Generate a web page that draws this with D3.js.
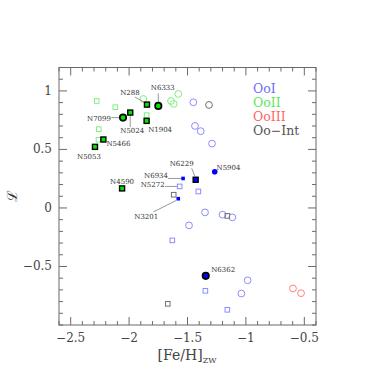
<!DOCTYPE html>
<html>
<head>
<meta charset="utf-8">
<script src="https://cdn.jsdelivr.net/npm/d3@7"></script>
<style>
  body { margin: 0; background: #fff; }
  text { font-family: "DejaVu Serif", serif; }
</style>
</head>
<body>
<div id="chart"></div>
<script>
// groups and their colours
var groups = ["OoI", "OoII", "OoIII", "Oo\u2212Int"]
var legendColor = ["#6c6cff", "#5ee65e", "#ff6464", "#555555"]
var openColor = ["#8c8cff", "#80ee80", "#ff8080", "#707070"]

// unnamed clusters: [FeH, L, group, shape]  (shape: c = circle, s = square)
var openPoints = [
    [-2.277, 0.914, 1, "s"], [-2.118, 0.861, 1, "s"], [-1.878, 0.931, 1, "c"],
    [-1.579, 0.974, 1, "c"], [-1.641, 0.914, 1, "c"], [-1.618, 0.889, 1, "c"],
    [-1.850, 0.793, 1, "s"], [-2.260, 0.673, 1, "s"], [-2.262, 0.582, 1, "s"],
    [-1.450, 0.903, 0, "c"], [-1.436, 0.701, 0, "c"], [-1.387, 0.656, 0, "c"],
    [-1.290, 0.550, 0, "c"], [-1.407, 0.141, 0, "s"], [-1.487, -0.149, 0, "c"],
    [-1.630, -0.277, 0, "s"], [-1.350, -0.038, 0, "c"], [-1.200, -0.057, 0, "c"],
    [-1.116, -0.080, 0, "c"], [-0.985, -0.618, 0, "c"], [-1.347, -0.708, 0, "s"],
    [-1.039, -0.731, 0, "c"], [-1.159, -0.870, 0, "s"],
    [-0.597, -0.688, 2, "c"], [-0.528, -0.728, 2, "c"],
    [-1.316, 0.880, 3, "c"], [-1.618, 0.113, 3, "s"], [-1.159, -0.068, 3, "s"],
    [-1.669, -0.819, 3, "s"]
]

// named clusters: [name, FeH, L, group, kind]
// kind: big = bordered circle, box = bordered square, dot = filled circle,
//       tiny = small filled square, open = open square
var namedPoints = [
    ["N288", -1.847, 0.883, 1, "box"],
    ["N6333", -1.750, 0.872, 1, "big"],
    ["N1904", -1.850, 0.744, 1, "box"],
    ["N5024", -1.990, 0.815, 1, "box"],
    ["N7099", -2.052, 0.772, 1, "big"],
    ["N5466", -2.220, 0.585, 1, "box"],
    ["N5053", -2.292, 0.522, 1, "box"],
    ["N4590", -2.060, 0.167, 1, "box"],
    ["N6229", -1.430, 0.241, 0, "box"],
    ["N6934", -1.538, 0.252, 0, "tiny"],
    ["N5272", -1.567, 0.184, 0, "open"],
    ["N3201", -1.579, 0.079, 0, "tiny"],
    ["N5904", -1.267, 0.309, 0, "dot"],
    ["N6362", -1.344, -0.580, 0, "big"]
]

var xTicks = [-2.5, -2, -1.5, -1, -0.5]
var yTicks = [-0.5, 0, 0.5, 1]

// label placement in pixels relative to the point: [dx, dy, leader line]
var labelLayout = {
    "N288": [-17, -11.5, [-12, -7.5, -2, -2]],
    "N6333": [4.5, -17.5, [0, -12.5, 0, -4]],
    "N1904": [13.5, 9],
    "N5024": [2, 18, [0, 3, 0, 14.5]],
    "N7099": [-24, 1.3, [-11.5, 0, -4, 0]],
    "N5466": [15, 4.5],
    "N5053": [-6, 9.7],
    "N4590": [0, -6.5],
    "N6229": [-14, -16, [-4, -11.5, -0.8, -3.5]],
    "N6934": [-27, -2.7, [-15, 0, -2, 0]],
    "N5272": [-27, -1.7, [-14.5, 0, -2.5, 0]],
    "N3201": [-32, 18.3, [-25, 13.3, -2, 1.7]],
    "N5904": [13.8, -3.8],
    "N6362": [17.5, -5.8]
}

var W = 383, H = 383
var margin = {left: 59, right: 67, top: 67.5, bottom: 58}

var svg = d3.select("#chart").append("svg")
    .attr("width", W).attr("height", H)

var x = d3.scaleLinear().domain([-2.6, -0.4]).range([margin.left, W - margin.right])
var y = d3.scaleLinear().domain([-1, 1.2]).range([H - margin.bottom, margin.top])

var x0 = x.range()[0], x1 = x.range()[1]
var y0 = y.range()[0], y1 = y.range()[1]

var frameColor = "#6a6a6a"
var axes = svg.append("g")

// minor ticks every 0.1 on all four sides, major at the labelled values
var xMinor = d3.range(-26, -3).map(function(d){ return d / 10 })
var yMinor = d3.range(-10, 13).map(function(d){ return d / 10 })

function isMajor(v, list){
    return list.some(function(t){ return Math.abs(t - v) < 1e-6 })
}

xMinor.forEach(function(v){
    var len = isMajor(v, xTicks) ? 8 : 4
    axes.append("line").attr("x1", x(v)).attr("x2", x(v))
        .attr("y1", y0).attr("y2", y0 - len)
        .attr("stroke", frameColor).attr("stroke-width", 1)
    axes.append("line").attr("x1", x(v)).attr("x2", x(v))
        .attr("y1", y1).attr("y2", y1 + len)
        .attr("stroke", frameColor).attr("stroke-width", 1)
})
yMinor.forEach(function(v){
    var len = isMajor(v, yTicks) ? 8 : 4
    axes.append("line").attr("y1", y(v)).attr("y2", y(v))
        .attr("x1", x0).attr("x2", x0 + len)
        .attr("stroke", frameColor).attr("stroke-width", 1)
    axes.append("line").attr("y1", y(v)).attr("y2", y(v))
        .attr("x1", x1).attr("x2", x1 - len)
        .attr("stroke", frameColor).attr("stroke-width", 1)
})

axes.append("rect")
    .attr("x", x0).attr("y", y1)
    .attr("width", x1 - x0).attr("height", y0 - y1)
    .attr("fill", "none").attr("stroke", frameColor).attr("stroke-width", 1)

function fmt(v){ return String(v).replace("-", "\u2212") }

axes.selectAll(".xlab").data(xTicks).enter().append("text")
    .attr("x", function(d){ return x(d) })
    .attr("y", y0 + 13)
    .attr("text-anchor", "middle")
    .attr("dominant-baseline", "central")
    .attr("font-size", 12).attr("fill", "#444")
    .text(fmt)

axes.selectAll(".ylab").data(yTicks).enter().append("text")
    .attr("x", x0 - 7)
    .attr("y", function(d){ return y(d) })
    .attr("text-anchor", "end")
    .attr("dominant-baseline", "central")
    .attr("font-size", 12).attr("fill", "#444")
    .text(fmt)

// axis titles
var xt = svg.append("text")
    .attr("x", 187).attr("y", 360)
    .attr("text-anchor", "middle")
    .attr("font-size", 14).attr("fill", "#444")
xt.append("tspan").text("[Fe/H]")
xt.append("tspan").attr("font-size", 8).attr("dy", 3).text("ZW")

svg.append("text")
    .attr("transform", "translate(12,196) rotate(-90)")
    .attr("text-anchor", "middle")
    .attr("dominant-baseline", "central")
    .attr("font-size", 14).attr("fill", "#333")
    .text("\u2112")

// legend
svg.selectAll(".leg").data(groups).enter().append("text")
    .attr("x", 253)
    .attr("y", function(d, i){ return 88 + i * 14 })
    .attr("dominant-baseline", "central")
    .attr("font-size", 12.5)
    .attr("fill", function(d, i){ return legendColor[i] })
    .text(function(d){ return d })

// open markers
var marks = svg.append("g")
openPoints.forEach(function(p){
    var cx = x(p[0]), cy = y(p[1])
    if (p[3] === "c"){
        marks.append("circle").attr("cx", cx).attr("cy", cy).attr("r", 3.4)
            .attr("fill", "none").attr("stroke", openColor[p[2]]).attr("stroke-width", 1)
    } else {
        marks.append("rect").attr("x", cx - 2.3).attr("y", cy - 2.3)
            .attr("width", 4.6).attr("height", 4.6)
            .attr("fill", "none").attr("stroke", openColor[p[2]]).attr("stroke-width", 1)
    }
})

// named markers, labels and leader lines
var fillColor = ["#0000ff", "#00e600"]
namedPoints.forEach(function(p){
    var cx = x(p[1]), cy = y(p[2]), g = p[3], kind = p[4]
    var lay = labelLayout[p[0]]
    if (lay[2]){
        marks.append("line")
            .attr("x1", cx + lay[2][0]).attr("y1", cy + lay[2][1])
            .attr("x2", cx + lay[2][2]).attr("y2", cy + lay[2][3])
            .attr("stroke", "#999").attr("stroke-width", 1)
    }
    if (kind === "big"){
        marks.append("circle").attr("cx", cx).attr("cy", cy).attr("r", 3.2)
            .attr("fill", fillColor[g]).attr("stroke", "#000").attr("stroke-width", 1.7)
    } else if (kind === "box"){
        marks.append("rect").attr("x", cx - 2.5).attr("y", cy - 2.5)
            .attr("width", 5).attr("height", 5)
            .attr("fill", fillColor[g]).attr("stroke", "#000").attr("stroke-width", 1.4)
    } else if (kind === "dot"){
        marks.append("circle").attr("cx", cx).attr("cy", cy).attr("r", 2.8)
            .attr("fill", fillColor[g])
    } else if (kind === "tiny"){
        marks.append("rect").attr("x", cx - 1.8).attr("y", cy - 1.8)
            .attr("width", 3.6).attr("height", 3.6)
            .attr("fill", fillColor[g])
    } else {
        marks.append("rect").attr("x", cx - 2.3).attr("y", cy - 2.3)
            .attr("width", 4.6).attr("height", 4.6)
            .attr("fill", "none").attr("stroke", openColor[g]).attr("stroke-width", 1)
    }
    marks.append("text")
        .attr("x", cx + lay[0]).attr("y", cy + lay[1])
        .attr("text-anchor", "middle")
        .attr("dominant-baseline", "central")
        .attr("font-size", 7).attr("fill", "#333")
        .text(p[0])
})
</script>
</body>
</html>
